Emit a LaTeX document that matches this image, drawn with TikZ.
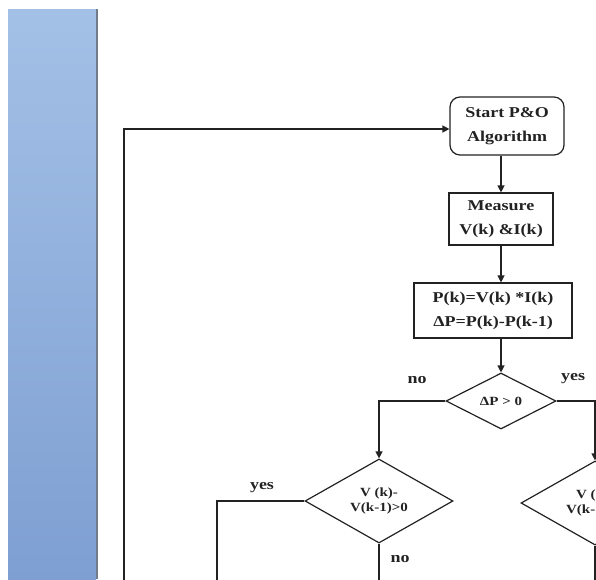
\documentclass[tikz,border=0pt]{standalone}
\usepackage{fontspec}
\setmainfont{Liberation Serif}[FakeStretch=1.2]
\usetikzlibrary{arrows.meta,shapes.geometric}
\definecolor{barTop}{HTML}{A3C0E6}
\definecolor{barBottom}{HTML}{7E9FD2}
\definecolor{barEdge}{HTML}{707C8C}
\definecolor{inkGray}{HTML}{222222}
\begin{document}
\begin{tikzpicture}[x=1pt,y=-1pt,
  flowline/.style={draw=inkGray,line width=1.3pt},
  flowarrow/.style={flowline,-{Triangle[length=7pt,width=7pt]}},
  stepbox/.style={draw=inkGray,line width=1.2pt,fill=white,align=center,
    inner sep=0pt,text=inkGray,font=\fontsize{15}{24}\selectfont\bfseries},
  decision/.style={diamond,draw=inkGray,line width=1.2pt,fill=white,align=center,
    inner sep=0pt,text=inkGray,font=\fontsize{12.5}{15}\selectfont\bfseries},
  answer/.style={text=inkGray,font=\fontsize{15}{18}\selectfont\bfseries}]
\useasboundingbox (0,0) rectangle (596,579);
\clip (0,0) rectangle (596,579);
% side bar
\shade[top color=barTop,bottom color=barBottom] (8,9) rectangle (96,579);
\fill[barEdge] (96,9) rectangle (98,579);
% process steps
\node[stepbox,rounded corners=10pt,minimum width=114,minimum height=58] (start) at (507,126) {Start P\&O\\Algorithm};
\node[stepbox,minimum width=104,minimum height=52] (measure) at (501,219) {Measure\\V(k) \&I(k)};
\node[stepbox,minimum width=158,minimum height=55] (power) at (493,310.5) {P(k)=V(k) *I(k)\\ΔP=P(k)-P(k-1)};
% decisions
\node[decision,minimum width=110,minimum height=56] (dpcheck) at (501,401) {ΔP > 0};
\node[decision,minimum width=148,minimum height=82] (dvleft) at (379,501) {V (k)-\\V(k-1)>0};
\node[decision,minimum width=148,minimum height=84] (dvright) at (595,503) {V (k)-\\V(k-1)>0};
% loose ends at the bottom
\coordinate (yesend) at (217,590);
\coordinate (noend) at (379,590);
\coordinate (rightend) at (595,590);
\coordinate (loopend) at (124,590);
% connectors
\draw[flowarrow] (start.south -| measure.north) -- (measure.north);
\draw[flowarrow] (measure.south) -- (measure.south |- power.north);
\draw[flowarrow] (power.south -| measure.south) -- (dpcheck.north);
\draw[flowarrow] (dpcheck.west) -| (dvleft.north);
\draw[flowarrow] (dpcheck.east) -| (dvright.north);
\draw[flowline] (dvleft.west) -| (yesend);
\draw[flowline] (dvleft.south) -- (noend);
\draw[flowline] (dvright.south) -- (rightend);
\draw[flowarrow] (loopend) |- ([yshift=-3]start.west);
% branch labels
\node[answer] (dpno) at (417,380) {no};
\node[answer] (dpyes) at (573,379) {yes};
\node[answer] (dvyes) at (262,488) {yes};
\node[answer] (dvno) at (400,559) {no};
\end{tikzpicture}
\end{document}
